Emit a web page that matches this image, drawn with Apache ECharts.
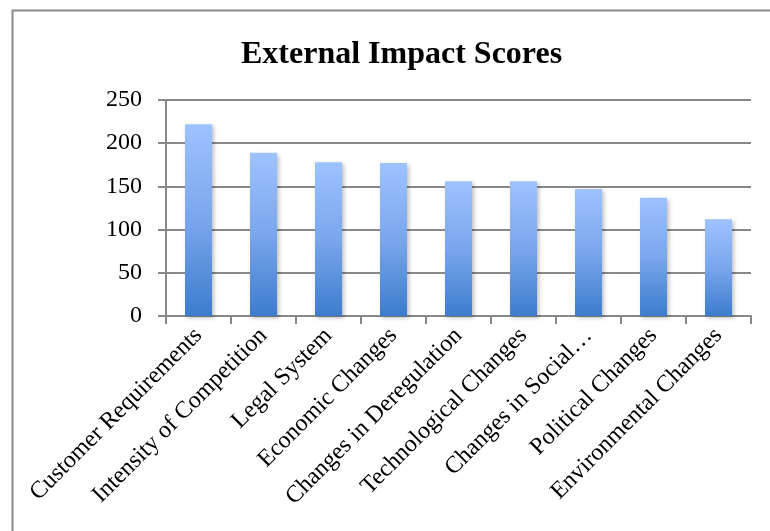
<!DOCTYPE html>
<html>
<head>
<meta charset="utf-8">
<script src="https://cdn.jsdelivr.net/npm/echarts@6/dist/echarts.min.js"></script>
<style>
  html, body { margin: 0; padding: 0; background: #fff; }
  #chart { width: 770px; height: 531px; }
</style>
</head>
<body>
<div id="chart"></div>
<script>
// categories and scores
const categories = [
  'Customer Requirements',
  'Intensity of Competition',
  'Legal System',
  'Economic Changes',
  'Changes in Deregulation',
  'Technological Changes',
  'Changes in Social…',
  'Political Changes',
  'Environmental Changes'
];
const scores = [222, 189, 178, 177, 156, 156, 147, 137, 112];
const yTicks = [0, 50, 100, 150, 200, 250];

const chart = echarts.init(document.getElementById('chart'));
const serif = '"Liberation Serif", "DejaVu Serif", serif';

chart.setOption({
  backgroundColor: '#fff',
  animation: false,
  title: {
    text: 'External Impact Scores',
    left: 236,
    top: 34,
    textStyle: { fontFamily: serif, fontWeight: 'bold', fontSize: 32, color: '#000' }
  },
  // outer chart frame: only left and top edges fall inside the picture
  graphic: [{
    type: 'polyline',
    shape: { points: [[12.5, 540], [12.5, 10.5], [780, 10.5]] },
    style: { fill: null, stroke: '#8a8a8a', lineWidth: 2 },
    silent: true
  }],
  grid: { left: 166, right: 19, top: 100, bottom: 215, containLabel: false },
  xAxis: {
    type: 'category',
    data: categories,
    axisLine: { lineStyle: { color: '#888', width: 2 } },
    axisTick: { show: true, length: 8, lineStyle: { color: '#888', width: 2 } },
    axisLabel: {
      rotate: 45,
      interval: 0,
      margin: 16,
      fontFamily: serif,
      fontSize: 24,
      color: '#000'
    }
  },
  yAxis: {
    type: 'value',
    min: yTicks[0],
    max: yTicks[yTicks.length - 1],
    interval: 50,
    axisLine: { show: true, lineStyle: { color: '#888', width: 2 } },
    axisTick: { show: true, length: 8, lineStyle: { color: '#888', width: 2 } },
    splitLine: { lineStyle: { color: '#888', width: 2 } },
    axisLabel: { margin: 24, fontFamily: serif, fontSize: 24, color: '#000' }
  },
  series: [{
    type: 'bar',
    data: scores,
    barWidth: 27,
    itemStyle: {
      color: new echarts.graphic.LinearGradient(0, 0, 0, 1, [
        { offset: 0, color: '#9dc3ff' },
        { offset: 0.5, color: '#7aa6ec' },
        { offset: 1, color: '#3c7dcd' }
      ]),
      shadowColor: 'rgba(0,0,0,0.25)',
      shadowBlur: 4,
      shadowOffsetX: 2,
      shadowOffsetY: 2
    }
  }]
});
</script>
</body>
</html>
